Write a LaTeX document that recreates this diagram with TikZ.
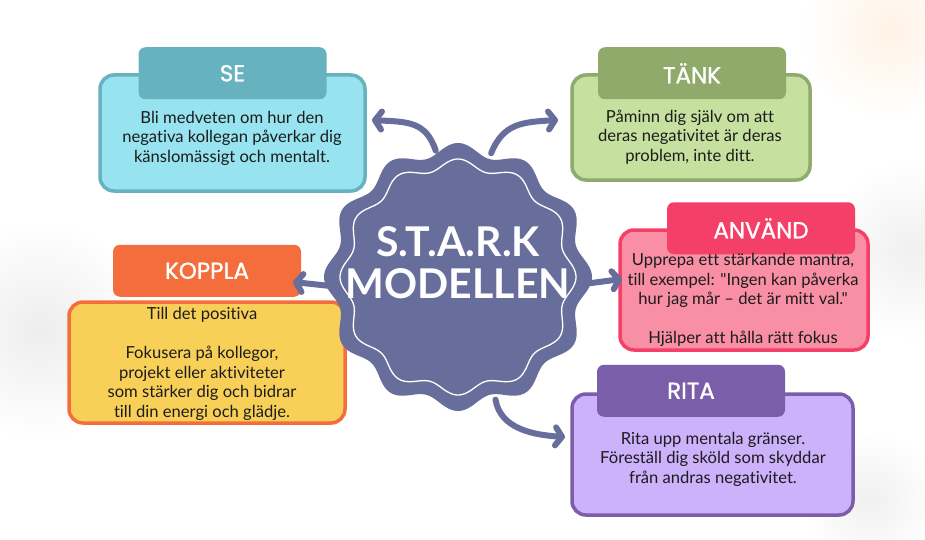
\documentclass[tikz,border=0pt]{standalone}
\usepackage{fontspec}
\setmainfont{Lato}[Ligatures={TeXOff, NoCommon}]
\newfontfamily\headfont[FakeBold=1.2]{Poppins}
\usetikzlibrary{arrows.meta}

\definecolor{starkFill}{HTML}{686E9B}
\definecolor{seLine}{HTML}{66B3BF}
\definecolor{seFill}{HTML}{97E3F0}
\definecolor{tankLine}{HTML}{8FAA6B}
\definecolor{tankFill}{HTML}{C6E0A0}
\definecolor{anvLine}{HTML}{F43F68}
\definecolor{anvFill}{HTML}{F98FA5}
\definecolor{kopLine}{HTML}{F46E3D}
\definecolor{kopFill}{HTML}{F8D057}
\definecolor{ritaLine}{HTML}{7A5EA9}
\definecolor{ritaFill}{HTML}{CCB1FB}
\definecolor{bodyText}{HTML}{1C1C1C}

\begin{document}
\begin{tikzpicture}[x=1pt, y=-1pt,
			box/.style={line width=3.5pt, rounded corners=14pt, inner sep=0pt},
			head/.style={rounded corners=7pt, minimum width=188pt, minimum height=52pt,
				inner sep=0pt, text=white, font=\headfont\fontsize{23}{23}\selectfont},
			txt/.style={align=center, text=bodyText, font=\fontsize{16.6}{19.5}\selectfont},
			link/.style={draw=starkFill, line width=6pt, line cap=round,
				-{Straight Barb[length=6.5pt, width=18pt, round]}}]
			
			\useasboundingbox (0,0) rectangle (925,540);
			\fill[white] (0,0) rectangle (925,540);
			\shade[inner color=black!7, outer color=white] (40,330) circle (110);
			\shade[inner color=black!6, outer color=white] (910,250) circle (90);
			\shade[inner color=orange!10, outer color=white] (890,30) circle (90);
			\shade[inner color=black!6, outer color=white] (870,500) circle (70);
			
			% boxes
			\node (seBox) [box, draw=seLine, fill=seFill, minimum width=265pt, minimum height=116pt] at (232.5,133) {};
			\node (tankBox) [box, draw=tankLine, fill=tankFill, minimum width=238pt, minimum height=105pt] at (691,127.5) {};
			\node (anvBox) [box, draw=anvLine, fill=anvFill, minimum width=248pt, minimum height=120pt] at (744,290) {};
			\node (kopBox) [box, draw=kopLine, fill=kopFill, minimum width=276pt, minimum height=121pt] at (207,362.5) {};
			\node (ritaBox) [box, draw=ritaLine, fill=ritaFill, minimum width=281pt, minimum height=121pt] at (712.5,454.5) {};
			
			\node (seHead) [head, fill=seLine] at (seBox.north) {SE};
			\node (tankHead) [head, fill=tankLine] at ([xshift=1pt]tankBox.north) {TÄNK};
			\node (anvHead) [head, fill=anvLine] at ([xshift=17pt]anvBox.north) {ANVÄND};
			\node (kopHead) [head, fill=kopLine] at ([yshift=29.5pt]kopBox.north) {KOPPLA};
			\node (ritaHead) [head, fill=ritaLine] at ([xshift=-21.5pt, yshift=1.5pt]ritaBox.north) {RITA};
			
			\node (seText) [txt] at (232,138) {Bli medveten om hur den\\negativa kollegan påverkar dig\\känslomässigt och mentalt.};
			\node (tankText) [txt] at (690,137) {Påminn dig själv om att\\deras negativitet är deras\\problem, inte ditt.};
			\node (anvText) [txt] at (743,300) {Upprepa ett stärkande mantra,\\till exempel: "Ingen kan påverka\\hur jag mår – det är mitt val."\\[19.5pt]Hjälper att hålla rätt fokus};
			\node (kopText) [txt] at (202,364) {Till det positiva\\[19.5pt]Fokusera på kollegor,\\projekt eller aktiviteter\\som stärker dig och bidrar\\till din energi och glädje.};
			\node (ritaText) [txt] at (713,459) {Rita upp mentala gränser.\\Föreställ dig sköld som skyddar\\från andras negativitet.};
			
			% center
			\node (stark) [circle, minimum size=256pt, inner sep=0pt] at (458,277) {};
			\coordinate (seTip) at (372,120);
			\coordinate (tankTip) at (558,120);
			\coordinate (kopTip) at (293,282);
			\coordinate (anvTip) at (622,279);
			\coordinate (ritaTip) at (565,437);
			
			\draw[link] (stark.100) .. controls +(-10,-30) and +(35,2) .. (seTip);
			\draw[link] (stark.75) .. controls +(12,-30) and +(-35,2) .. (tankTip);
			\draw[link] (stark.184) -- (kopTip);
			\draw[link] (stark.-3) -- (anvTip);
			\draw[link] (stark.-73) .. controls +(5,30) and +(-30,-2) .. (ritaTip);
			
			\fill[starkFill, shift={(stark.center)}] plot[domain=0:360, samples=361]
				({(128+6*cos(12*\x))*cos(\x)}, {(128+6*cos(12*\x))*sin(\x)}) -- cycle;
			\draw[white, line width=1.3pt, shift={(stark.center)}] plot[domain=0:360, samples=361]
				({(113+5*cos(12*\x))*cos(\x)}, {(113+5*cos(12*\x))*sin(\x)}) -- cycle;
			\node (starkText) [align=center, text=white, font=\bfseries\fontsize{41}{42}\selectfont] at (458,263) {S.T.A.R.K\\MODELLEN};
		\end{tikzpicture}
\end{document}
